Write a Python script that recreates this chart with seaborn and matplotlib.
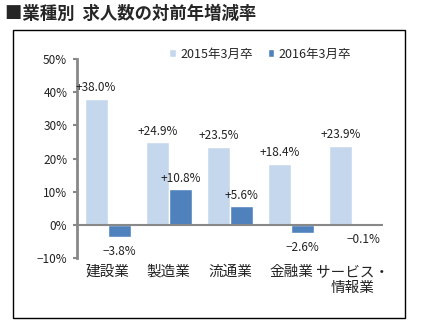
import matplotlib
matplotlib.use("Agg")
import matplotlib.pyplot as plt
import seaborn as sns
import pandas as pd
from matplotlib.patches import Rectangle

categories = ["建設業", "製造業", "流通業", "金融業", "サービス・\n情報業"]
series_names = ["2015年3月卒", "2016年3月卒"]
values_2015 = [38.0, 24.9, 23.5, 18.4, 23.9]
values_2016 = [-3.8, 10.8, 5.6, -2.6, -0.1]
yticks = [-10, 0, 10, 20, 30, 40, 50]
title = "■業種別  求人数の対前年増減率"

sns.set_theme(style="white")
plt.rcParams['font.family'] = ['Noto Sans CJK JP', 'DejaVu Sans']
plt.rcParams['axes.unicode_minus'] = True

df = pd.DataFrame({
    "cat": categories * 2,
    "series": [series_names[0]] * len(categories) + [series_names[1]] * len(categories),
    "value": values_2015 + values_2016,
})

colors = ["#C5D7ED", "#4F81BD"]

fig = plt.figure(figsize=(4.31, 3.31), dpi=100)
ax = fig.add_axes([77 / 431, 1 - 258 / 331, (383 - 77) / 431, (258 - 59) / 331])

sns.barplot(data=df, x="cat", y="value", hue="series", palette=colors,
            width=0.75, gap=0, saturation=1, ax=ax, legend=True)

ax.set_ylim(-10, 50)
ax.set_xlim(-0.5, len(categories) - 0.5)
ax.set_yticks(yticks)
ax.set_yticklabels([("−" if t < 0 else "") + f"{abs(t)}%" for t in yticks], fontsize=8.5)
ax.set_xlabel("")
ax.set_ylabel("")
ax.tick_params(axis="x", length=0, labelsize=10.5, pad=5, labelcolor="#222222")
ax.tick_params(axis="y", length=3, width=1.5, color="#888888", direction="out", pad=4,
               left=True, labelcolor="#222222")

for s in ["top", "right", "bottom"]:
    ax.spines[s].set_visible(False)
ax.spines["left"].set_color("#888888")
ax.spines["left"].set_linewidth(2)
ax.axhline(0, color="#888888", linewidth=1.5, zorder=3)

def fmt(v):
    return ("+" if v > 0 else ("−" if v < 0 else "")) + f"{abs(v):.1f}%"

for cont in ax.containers:
    for bar in cont:
        h = bar.get_height()
        y0 = bar.get_y()
        if h < 0 or y0 < 0:
            val = min(y0, y0 + h)
            off = -14
        else:
            val = y0 + h
            off = 11
        ax.annotate(fmt(val), (bar.get_x() + bar.get_width() / 2, val),
                    xytext=(0, off / 1.389), textcoords="offset points",
                    ha="center", va="center", fontsize=8.5, color="#222222")

leg = ax.legend(loc="center", bbox_to_anchor=(260 / 431, 1 - 54 / 331),
                bbox_transform=fig.transFigure, ncol=2, frameon=False,
                fontsize=9, handlelength=0.55, handleheight=0.55,
                handletextpad=0.3, columnspacing=1.2)

fig.patches.append(Rectangle((13 / 431, 1 - 318 / 331), (405 - 13) / 431, (318 - 30) / 331,
                             transform=fig.transFigure, fill=False,
                             edgecolor="black", linewidth=1))
fig.text(5 / 431, 1 - 14 / 331, title, fontsize=12.5, fontweight="bold",
         ha="left", va="center")

fig.savefig("out.png", dpi=100)
